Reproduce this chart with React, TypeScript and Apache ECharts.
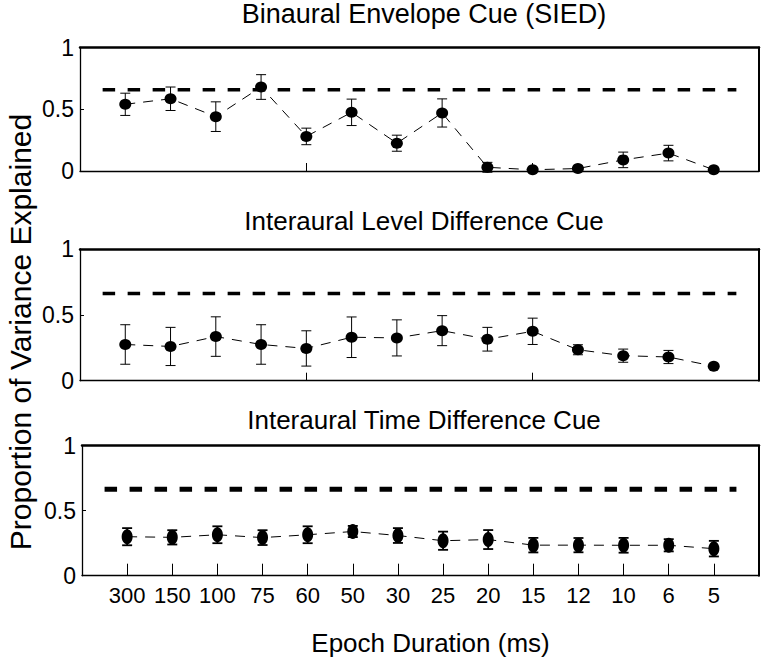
import React, { useEffect, useRef } from "react";
import * as echarts from "echarts";

const durations = ["300", "150", "100", "75", "60", "50", "30", "25", "20", "15", "12", "10", "6", "5"];

const panelTitles = [
  "Binaural Envelope Cue (SIED)",
  "Interaural Level Difference Cue",
  "Interaural Time Difference Cue",
];

const siedMean = [0.54, 0.585, 0.44, 0.68, 0.28, 0.475, 0.225, 0.47, 0.03, 0.01, 0.02, 0.09, 0.145, 0.01];
const siedErr = [0.09, 0.095, 0.12, 0.1, 0.067, 0.107, 0.065, 0.114, 0.04, 0.01, 0.02, 0.063, 0.063, 0.0];

const ildMean = [0.275, 0.26, 0.335, 0.275, 0.245, 0.33, 0.325, 0.38, 0.315, 0.375, 0.235, 0.19, 0.18, 0.11];
const ildErr = [0.15, 0.145, 0.15, 0.15, 0.134, 0.154, 0.137, 0.114, 0.09, 0.1, 0.038, 0.05, 0.05, 0.0];

const itdMean = [0.3, 0.295, 0.315, 0.293, 0.315, 0.34, 0.309, 0.269, 0.278, 0.235, 0.235, 0.234, 0.234, 0.208];
const itdErr = [0.066, 0.055, 0.065, 0.057, 0.065, 0.043, 0.057, 0.07, 0.073, 0.056, 0.055, 0.057, 0.047, 0.06];

const thresholds = [0.657, 0.663, 0.665];

const yTitle = "Proportion of Variance Explained";
const xTitle = "Epoch Duration (ms)";

const FONT = "'Liberation Sans', Arial, Helvetica, sans-serif";

export default function App() {
  const ref = useRef<HTMLDivElement>(null);

  useEffect(() => {
    if (!ref.current) return;
    const chart = echarts.init(ref.current, null, { renderer: "svg" });

    const means = [siedMean, ildMean, itdMean];
    const errs = [siedErr, ildErr, itdErr];
    const grids = [
      { left: 80, top: 47.5, width: 679, height: 123.5 },
      { left: 80, top: 249, width: 679, height: 131.7 },
      { left: 82, top: 445.7, width: 677, height: 130 },
    ];
    const titleTops = [0, 208, 407];
    const titleSizes = [27, 26, 26];

    const positions = durations.map((_, i) => i + 1);

    const xAxes: any[] = [];
    const yAxes: any[] = [];
    const series: any[] = [];

    grids.forEach((g, k) => {
      const isBottom = k === 2;
      xAxes.push({
        type: "value",
        gridIndex: k,
        min: 0,
        max: 15,
        interval: 1,
        position: "bottom",
        splitLine: { show: false },
        axisLine: { show: true, onZero: false, lineStyle: { color: "#000", width: 1.3 } },
        axisTick: {
          show: true,
          inside: true,
          length: isBottom ? 12 : 8,
          customValues: isBottom ? positions : [5, 10],
          lineStyle: { color: "#000", width: 1 },
        },
        axisLabel: isBottom
          ? {
              show: true,
              customValues: positions,
              formatter: (v: number) => durations[Math.round(v) - 1] ?? "",
              color: "#000",
              fontSize: 22,
              fontFamily: FONT,
              margin: 9,
            }
          : { show: false },
        name: isBottom ? xTitle : "",
        nameLocation: "middle",
        nameGap: 54,
        nameTextStyle: { color: "#000", fontSize: 26, fontFamily: FONT, padding: [0, 0, 0, 20] },
      });
      xAxes.push({
        type: "value",
        gridIndex: k,
        min: 0,
        max: 15,
        position: "top",
        splitLine: { show: false },
        axisLine: { show: true, onZero: false, lineStyle: { color: "#000", width: 2.5 } },
        axisTick: { show: false },
        axisLabel: { show: false },
      });
      yAxes.push({
        type: "value",
        gridIndex: k,
        min: 0,
        max: 1,
        interval: 0.5,
        position: "left",
        splitLine: { show: false },
        axisLine: { show: true, onZero: false, lineStyle: { color: "#000", width: 1.3 } },
        axisTick: { show: true, inside: true, length: 4, lineStyle: { color: "#000" } },
        axisLabel: { color: "#000", fontSize: 23, fontFamily: FONT, margin: 6 },
      });
      yAxes.push({
        type: "value",
        gridIndex: k,
        min: 0,
        max: 1,
        position: "right",
        splitLine: { show: false },
        axisLine: { show: true, onZero: false, lineStyle: { color: "#000", width: 2 } },
        axisTick: { show: false },
        axisLabel: { show: false },
      });

      const xi = k * 2;
      const yi = k * 2;
      const barW = isBottom ? 1.8 : 1;

      series.push({
        type: "line",
        xAxisIndex: xi,
        yAxisIndex: yi,
        data: [
          [0.5, thresholds[k]],
          [14.5, thresholds[k]],
        ],
        symbol: "none",
        silent: true,
        lineStyle: { color: "#000", width: isBottom ? 5 : 3.5, type: [12.5, 12.5] },
      });

      series.push({
        type: "custom",
        xAxisIndex: xi,
        yAxisIndex: yi,
        data: means[k].map((m, i) => [positions[i], m, errs[k][i]]),
        encode: { x: 0, y: 1 },
        clip: false,
        renderItem: (params: any, api: any) => {
          const x = api.value(0);
          const m = api.value(1);
          const e = api.value(2);
          const top = api.coord([x, m + e]);
          const bot = api.coord([x, m - e]);
          const hw = 5;
          const style = { stroke: "#000", lineWidth: barW };
          return {
            type: "group",
            children: [
              { type: "line", shape: { x1: top[0], y1: top[1], x2: bot[0], y2: bot[1] }, style },
              { type: "line", shape: { x1: top[0] - hw, y1: top[1], x2: top[0] + hw, y2: top[1] }, style },
              { type: "line", shape: { x1: bot[0] - hw, y1: bot[1], x2: bot[0] + hw, y2: bot[1] }, style },
            ],
          };
        },
      });

      series.push({
        type: "line",
        xAxisIndex: xi,
        yAxisIndex: yi,
        data: means[k].map((m, i) => [positions[i], m]),
        symbol: "circle",
        symbolSize: isBottom ? [11, 15] : [12, 11],
        itemStyle: { color: "#000" },
        lineStyle: { color: "#000", width: 1, type: [10, 8] },
      });
    });

    chart.setOption({
      animation: false,
      backgroundColor: "#fff",
      title: panelTitles.map((t, k) => ({
        text: t,
        left: 424,
        top: titleTops[k],
        padding: 0,
        textAlign: "center",
        textStyle: { color: "#000", fontSize: titleSizes[k], fontWeight: "normal", fontFamily: FONT },
      })),
      grid: grids,
      xAxis: xAxes,
      yAxis: yAxes,
      series,
      graphic: [
        {
          type: "text",
          x: 20,
          y: 332,
          rotation: Math.PI / 2,
          style: {
            text: yTitle,
            font: `30px ${FONT}`,
            fill: "#000",
            textAlign: "center",
            textVerticalAlign: "middle",
          },
        },
      ],
    });

    return () => chart.dispose();
  }, []);

  return (
    <div
      ref={ref}
      style={{ position: "absolute", left: 0, top: 0, width: 764, height: 659, background: "#fff" }}
    />
  );
}
